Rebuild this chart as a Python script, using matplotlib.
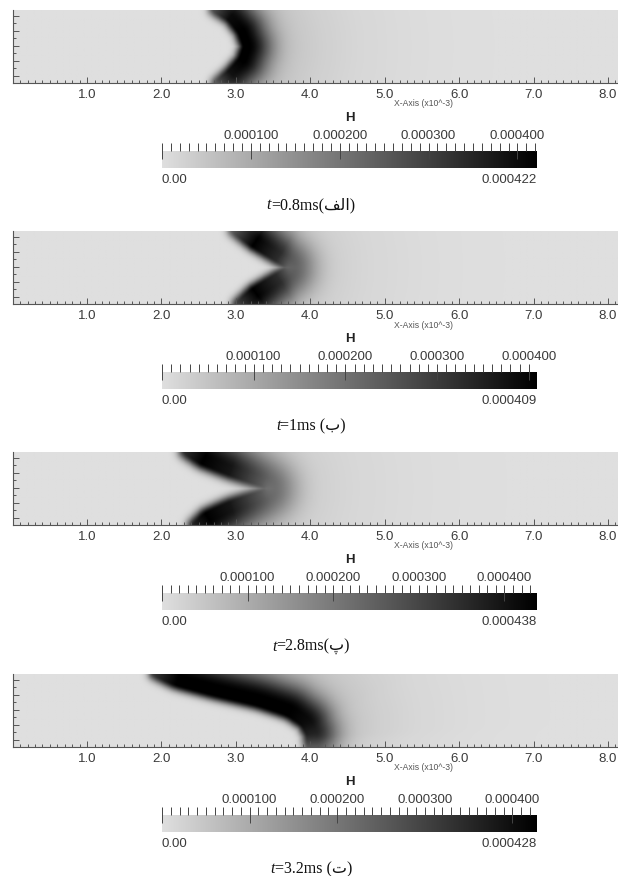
import numpy as np
import matplotlib
matplotlib.use("Agg")
import matplotlib.pyplot as plt
from matplotlib.colors import LinearSegmentedColormap
from matplotlib.ticker import FixedLocator, MultipleLocator, NullFormatter

# ---------------- data ----------------
# x tick labels of the field axes (x10^-3)
x_ticks = [1, 2, 3, 4, 5, 6, 7, 8]
x_tick_labels = ["1.0", "2.0", "3.0", "4.0", "5.0", "6.0", "7.0", "8.0"]

# colourbar maxima of H per panel
h_max = [0.000422, 0.000409, 0.000438, 0.000428]
cbar_ticks = [0.0, 0.0001, 0.0002, 0.0003, 0.0004]
cbar_tick_labels = ["", "0.000100", "0.000200", "0.000300", "0.000400"]
cbar_max_labels = ["0.000422", "0.000409", "0.000438", "0.000428"]

# captions
cap_time = ["=0.8ms", "=1ms ", "=2.8ms", "=3.2ms "]
cap_letter = ["\uFED2\uFEDF\uFE8D", "\uFE8F", "\uFB56", "\uFE95"]  # الف, ب, پ, ت

# centre line of the dark band (y level -> x position) and its relative strength
p1_y = [0.0, 0.15, 0.32, 0.49, 0.68, 0.86, 0.98]
p1_x = [2.72, 2.90, 3.05, 3.11, 3.04, 2.90, 2.69]
p1_amp = [0.60, 0.92, 1.00, 1.00, 1.00, 0.95, 0.65]

p2_y = [0.0, 0.196, 0.392, 0.49, 0.588, 0.784, 0.98]
p2_x = [3.00, 3.22, 3.54, 3.70, 3.54, 3.22, 2.95]
p2_amp = [0.70, 1.00, 0.80, 0.55, 0.80, 1.00, 0.60]

p3_y = [0.0, 0.147, 0.294, 0.441, 0.49, 0.539, 0.686, 0.833, 0.98]
p3_x = [2.42, 2.58, 2.90, 3.33, 3.43, 3.33, 2.90, 2.53, 2.30]
p3_amp = [0.85, 1.00, 0.90, 0.60, 0.50, 0.60, 0.90, 1.00, 0.80]

p4_y = [0.0, 0.163, 0.30, 0.436, 0.572, 0.708, 0.844, 0.98]
p4_x = [3.97, 3.96, 3.89, 3.69, 3.28, 2.69, 2.18, 1.88]
p4_amp = [0.60, 0.85, 0.95, 1.00, 1.00, 1.00, 1.00, 0.75]

# band profile widths (upstream edge, black core, downstream fall-off, faint tail)
band_left = [0.09, 0.09, 0.10, 0.09]
band_core = [0.07, 0.11, 0.11, 0.12]
band_right = [0.30, 0.30, 0.32, 0.30]
tail_frac = [0.24, 0.24, 0.25, 0.25]
tail_len = [0.8, 0.8, 0.9, 0.8]

panels = [(p1_y, p1_x, p1_amp), (p2_y, p2_x, p2_amp),
          (p3_y, p3_x, p3_amp), (p4_y, p4_x, p4_amp)]

# ---------------- figure ----------------
W, H = 618, 876
fig = plt.figure(figsize=(W / 100, H / 100), dpi=100)
fig.patch.set_facecolor("white")

cmap = LinearSegmentedColormap.from_list("H", ["#dfdfdf", "#000000"])
SANS = "Liberation Sans"
TXT = "#3a3a3a"


def axes_px(left, top, width, height):
    return fig.add_axes([left / W, 1 - (top + height) / H, width / W, height / H])


X0 = 12.7
PXU = 74.4
XMAX = 8.25
YMAX = 0.98
offsets = [0, 221, 442, 664]

xs = np.linspace(0, XMAX, 700)
ys = np.linspace(0, YMAX, 150)


def band_field(cy, cx, amp, wl, core, wr, tf, tl):
    yy = np.linspace(0, YMAX, 500)
    cxx = np.interp(yy, cy, cx)
    k = np.exp(-0.5 * (np.arange(-30, 31) / 10.0) ** 2)
    k /= k.sum()
    cxx = np.convolve(np.pad(cxx, 30, mode="edge"), k, mode="valid")
    aa = np.interp(yy, cy, amp)
    out = np.empty((ys.size, xs.size))
    for j, yv in enumerate(ys):
        d2 = (xs[:, None] - cxx[None, :]) ** 2 + (yv - yy[None, :]) ** 2
        idx = np.argmin(d2, axis=1)
        dist = np.sqrt(d2[np.arange(xs.size), idx])
        side = np.sign(xs - np.interp(yv, yy, cxx))
        d = dist * side
        dd = np.clip(d - core, 0, None)
        f = np.where(d < 0, np.exp(-(d / wl) ** 2),
                     np.where(d < core, 1.0,
                              (1 - tf) * np.exp(-(dd / wr) ** 2) + tf * np.exp(-dd / tl)))
        out[j] = aa[idx] * f
    return out


caption_parts = []
for k, (cy, cx, amp) in enumerate(panels):
    off = offsets[k]
    # ---- field ----
    ax = axes_px(X0, 10 + off, XMAX * PXU, 73)
    Z = h_max[k] * band_field(cy, cx, amp, band_left[k], band_core[k],
                              band_right[k], tail_frac[k], tail_len[k])
    ax.imshow(Z, origin="lower", extent=[0, XMAX, 0, YMAX], cmap=cmap,
              vmin=0, vmax=h_max[k], aspect="auto", interpolation="bilinear")
    ax.set_xlim(0, XMAX)
    ax.set_ylim(0, YMAX)
    for s in ("top", "right"):
        ax.spines[s].set_visible(False)
    for s in ("left", "bottom"):
        ax.spines[s].set_color("#555555")
        ax.spines[s].set_linewidth(0.8)
    ax.xaxis.set_major_locator(FixedLocator(x_ticks))
    ax.set_xticklabels(x_tick_labels)
    ax.xaxis.set_minor_locator(MultipleLocator(0.1))
    ax.yaxis.set_major_locator(FixedLocator([0.1, 0.3, 0.5, 0.7, 0.9]))
    ax.yaxis.set_minor_locator(MultipleLocator(0.1))
    ax.yaxis.set_major_formatter(NullFormatter())
    ax.tick_params(which="both", direction="in", color="#555555", width=0.7)
    ax.tick_params(which="major", length=4.5)
    ax.tick_params(which="minor", length=2.2)
    ax.tick_params(axis="x", pad=4, labelsize=9.5, labelcolor=TXT)
    for lab in ax.get_xticklabels():
        lab.set_fontfamily(SANS)
    fig.text(424 / W, 1 - (104 + off) / H, "X-Axis (x10^-3)", fontsize=6.2,
             color="#555555", family=SANS, ha="center", va="center")

    # ---- colour bar ----
    cax = axes_px(162, 151 + off, 375, 17)
    grad = np.linspace(0, h_max[k], 256)[None, :]
    cax.imshow(grad, extent=[0, h_max[k], 0, 1], cmap=cmap, vmin=0, vmax=h_max[k],
               aspect="auto", interpolation="bilinear")
    cax.set_xlim(0, h_max[k])
    cax.set_ylim(0, 1)
    for s in cax.spines.values():
        s.set_visible(False)
    cax.set_yticks([])
    cax.xaxis.set_major_locator(FixedLocator(cbar_ticks))
    cax.set_xticklabels(cbar_tick_labels)
    cax.xaxis.set_minor_locator(MultipleLocator(0.00001))
    cax.tick_params(which="both", top=True, bottom=False, labeltop=True,
                    labelbottom=False, color="#444444", width=0.7)
    cax.tick_params(which="major", direction="inout", length=11, pad=1,
                    labelsize=9.5, labelcolor=TXT)
    cax.tick_params(which="minor", direction="out", length=5.5)
    for lab in cax.get_xticklabels():
        lab.set_fontfamily(SANS)

    fig.text(349.5 / W, 1 - (118 + off) / H, "H", fontsize=9.5, fontweight="bold",
             color="#222222", family=SANS, ha="center", va="center")
    fig.text(162 / W, 1 - (180 + off) / H, "0.00", fontsize=9.5, color=TXT,
             family=SANS, ha="left", va="center")
    fig.text(537 / W, 1 - (180 + off) / H, cbar_max_labels[k], fontsize=9.5,
             color=TXT, family=SANS, ha="right", va="center")

    # ---- caption ----
    y_cap = 1 - (205 + off) / H
    t1 = fig.text(0, y_cap, "t", fontsize=11.5, family="Liberation Serif",
                  style="italic", color="#111111", ha="right", va="center")
    t2 = fig.text(0, y_cap, cap_time[k] + "(" + cap_letter[k] + ")", fontsize=11.5,
                  family=["Liberation Serif", "DejaVu Sans"], color="#111111",
                  ha="left", va="center")
    caption_parts.append((t1, t2))

fig.canvas.draw()
r = fig.canvas.get_renderer()
for t1, t2 in caption_parts:
    w1 = t1.get_window_extent(r).width
    w2 = t2.get_window_extent(r).width
    start = 311 - (w1 + w2) / 2
    t1.set_x((start + w1) / W)
    t2.set_x((start + w1) / W)

fig.savefig("out.png", dpi=100, facecolor="white")
